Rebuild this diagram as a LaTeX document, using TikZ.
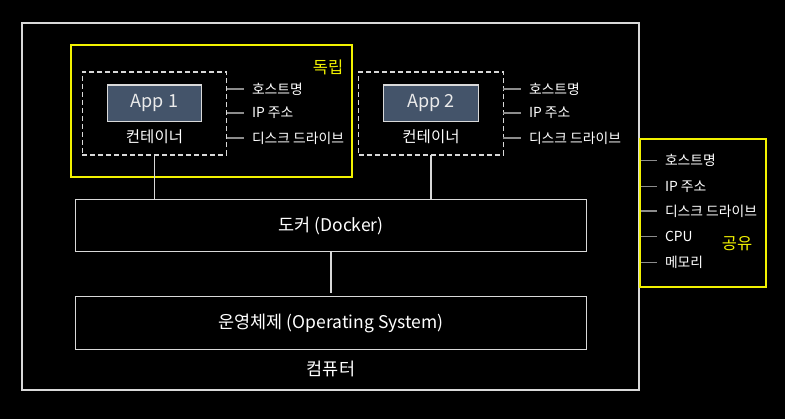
\documentclass[tikz,border=0pt]{standalone}
\usepackage{fontspec}
\setmainfont{Noto Sans CJK KR}
\definecolor{frameline}{HTML}{D9D9D9}
\definecolor{tickline}{HTML}{8C8C8C}
\definecolor{appfill}{HTML}{44546A}
\definecolor{hiyellow}{HTML}{F2F200}
\begin{document}
\begin{tikzpicture}[x=1pt,y=-1pt,inner sep=0pt,outer sep=0pt,line width=1.1pt,
layerblock/.style={draw=frameline,rectangle,minimum width=511pt,minimum height=52.5pt,font=\fontsize{17.5}{20}\selectfont,text=white},
appblock/.style={draw=frameline,fill=appfill,rectangle,minimum width=94.5pt,minimum height=36.5pt,font=\fontsize{18}{21}\selectfont,text=white!92!black},
contbox/.style={draw=frameline,dash pattern=on 5pt off 3pt,rectangle,minimum width=144.5pt,minimum height=83pt},
reslabel/.style={anchor=west,font=\fontsize{13.8}{16}\selectfont,text=white},
bigtext/.style={font=\fontsize{17.5}{20}\selectfont,text=white}]
\useasboundingbox[fill=black] (0,0) rectangle (785,419);
% computer frame and groups
\draw[frameline] (22,23) rectangle (639,390);
\draw[hiyellow] (71,45) rectangle (352,177);
\draw[hiyellow] (640,139) rectangle (766,287);
\draw (328,67) node[bigtext,font=\fontsize{16.5}{19}\selectfont,text=hiyellow] (indep) {독립};
\draw (737,244) node[bigtext,font=\fontsize{16.5}{19}\selectfont,text=hiyellow] (shared) {공유};
% containers
\draw (154.5,113.5) node[contbox] (cont1) {};
\draw (431,113.5) node[contbox] (cont2) {};
\draw (154.5,103.3) node[appblock] (app1) {App 1};
\draw (431,103.3) node[appblock] (app2) {App 2};
\draw (154.5,137) node[bigtext,font=\fontsize{15.5}{18}\selectfont] (clab1) {컨테이너};
\draw (431,137) node[bigtext,font=\fontsize{15.5}{18}\selectfont] (clab2) {컨테이너};
\draw (252,89) node[reslabel] (host1) {호스트명};
\draw (252,113) node[reslabel] (ip1) {IP 주소};
\draw (252,138) node[reslabel] (disk1) {디스크 드라이브};
\draw (529,89) node[reslabel] (host2) {호스트명};
\draw (529,113) node[reslabel] (ip2) {IP 주소};
\draw (529,138) node[reslabel] (disk2) {디스크 드라이브};
\foreach \r in {host1,ip1,disk1} \draw[tickline] (cont1.east |- \r) -- ([xshift=-8pt]\r.west);
\foreach \r in {host2,ip2,disk2} \draw[tickline] (cont2.east |- \r) -- ([xshift=-8pt]\r.west);
% docker and os
\draw (331,225.6) node[layerblock] (docker) {도커 (Docker)};
\draw (331,323) node[layerblock] (os) {운영체제 (Operating System)};
\draw (331,369) node[bigtext] (computer) {컴퓨터};
\draw[frameline] (cont1.south) -- (cont1.south |- docker.north);
\draw[frameline] (cont2.south) -- (cont2.south |- docker.north);
\draw[frameline] (docker.south) -- ([yshift=4pt]os.north);
% shared resources
\draw (665,160.7) node[reslabel] (shost) {호스트명};
\draw (665,186.7) node[reslabel] (sip) {IP 주소};
\draw (665,211) node[reslabel] (sdisk) {디스크 드라이브};
\draw (665,236.7) node[reslabel] (scpu) {CPU};
\draw (665,262.3) node[reslabel] (smem) {메모리};
\foreach \r in {shost,sip,sdisk,scpu,smem} \draw[tickline] ([xshift=1pt]640,0 |- \r) -- ([xshift=-8pt]\r.west);
\end{tikzpicture}
\end{document}
